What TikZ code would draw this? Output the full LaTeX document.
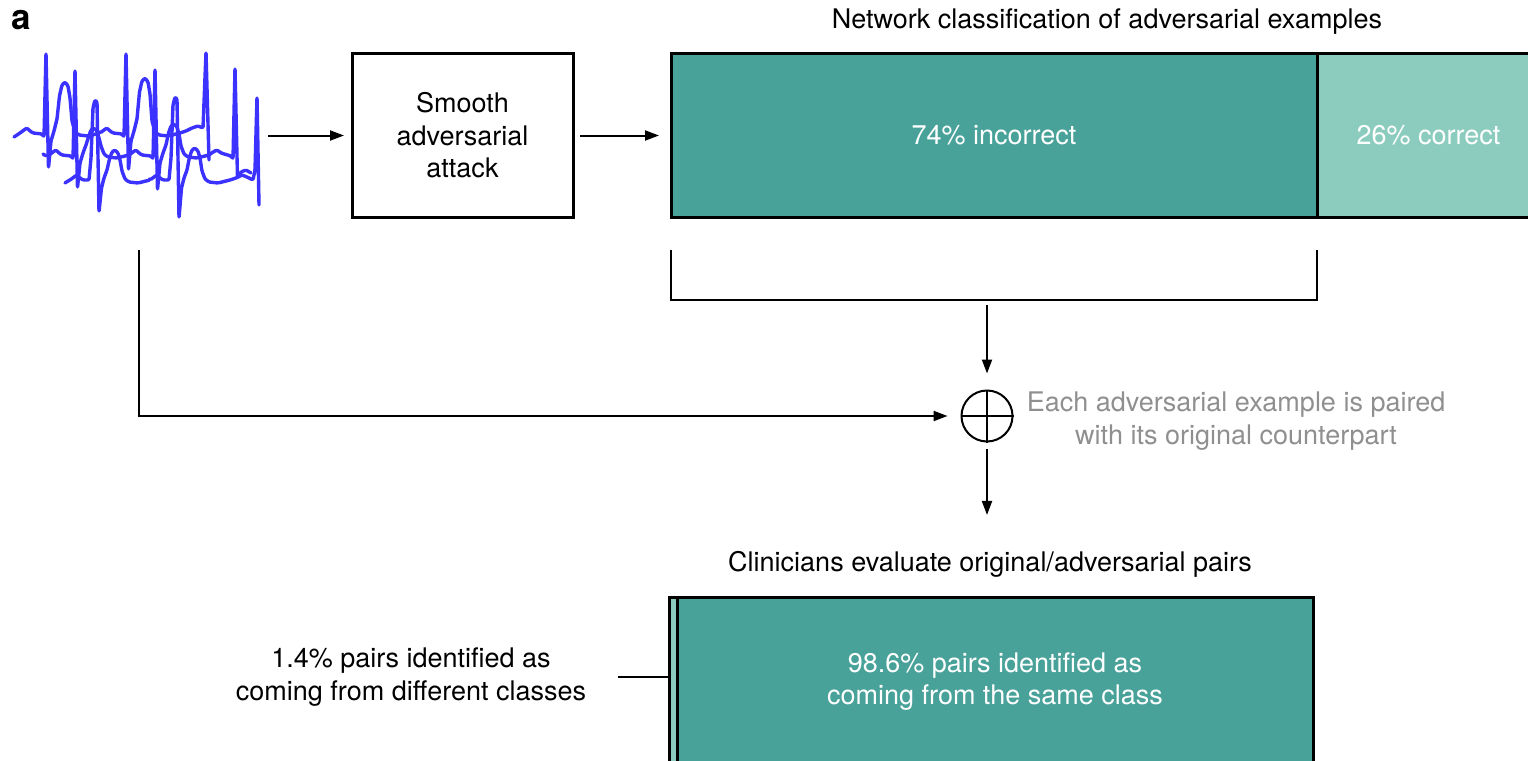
\documentclass[tikz,border=0pt]{standalone}
\usepackage{fontspec}
\setmainfont{TeX Gyre Heros}
\usetikzlibrary{arrows.meta,calc}
\definecolor{tealdark}{HTML}{48A299}
\definecolor{teallight}{HTML}{8BCCBE}
\definecolor{ecgblue}{HTML}{3B32FF}
\definecolor{notegray}{HTML}{8F8F8F}

\begin{document}
\begin{tikzpicture}[x=1pt,y=-1pt,
  txt/.style={font=\fontsize{27}{32.5}\selectfont, inner sep=0pt, outer sep=0pt, align=center},
  box/.style={txt, draw, line width=3pt},
  conn/.style={line width=2pt},
  arrowconn/.style={conn, -{Stealth[length=14pt,width=10pt,inset=0pt]}},
  ecg/.style={draw=ecgblue, line width=3.4pt, line join=round, line cap=round, rounded corners=1.2pt}
]
\clip (0,0) rectangle (1528,760);

% panel letter
\node[txt, font=\bfseries\fontsize{35}{40}\selectfont] (panel) at (21,20) {a};

% three overlaid ECG traces
\draw[ecg] (14,137) -- (17,135)
  foreach \x/\b/\r/\s/\t in {46/133/53/168/82, 126/133/53/170/78} {
    -- (\x-26,\b) -- (\x-22,\b-3) -- (\x-19,\b-5) -- (\x-16,\b-2) -- (\x-13,\b)
    -- (\x-4,\b+1) -- (\x-2,\b+4) -- (\x,\r) -- (\x+2.5,\s) -- (\x+5,\b+8)
    -- (\x+8,\b-2) -- (\x+11,\b-14) -- (\x+13.5,\t+14) -- (\x+16,\t+3) -- (\x+19,\t) -- (\x+22,\t+4)
    -- (\x+24,\t+16) -- (\x+26,\b-12) -- (\x+29,\b-1) -- (\x+33,\b+2) -- (\x+42,\b+3) -- (\x+54,\b)}
  -- (186,131) -- (192,128) -- (198,126) -- (203,128) -- (206,52) -- (209,160);
\draw[ecg] (43,154) -- (46,156)
  foreach \x/\b/\r/\s/\t in {75/155/70/188/128, 155/155/69/190/124} {
    -- (\x-26,\b) -- (\x-22,\b-3) -- (\x-19,\b-5) -- (\x-16,\b-2) -- (\x-13,\b)
    -- (\x-4,\b+1) -- (\x-2,\b+4) -- (\x,\r) -- (\x+2.5,\s) -- (\x+5,\b+8)
    -- (\x+8,\b-2) -- (\x+11,\b-10) -- (\x+13.5,\t+9) -- (\x+16,\t+2) -- (\x+19,\t) -- (\x+22,\t+3)
    -- (\x+24,\t+10) -- (\x+26,\b-9) -- (\x+29,\b-1) -- (\x+33,\b+2) -- (\x+42,\b+3) -- (\x+54,\b)}
  -- (213,152) -- (217,150) -- (221,153) -- (231,156) -- (233,159) -- (235,68)
  -- (237.5,178) -- (241,172) -- (246,170) -- (251,173);
\draw[ecg] (65,183) -- (68,181)
  foreach \x/\b/\r/\s/\t in {96/180/100/212/150, 176/180/97/218/148} {
    -- (\x-26,\b) -- (\x-22,\b-3) -- (\x-19,\b-5) -- (\x-16,\b-2) -- (\x-13,\b)
    -- (\x-7,\b) -- (\x-5,\b-22) -- (\x-3,\r+8) -- (\x-1,\r) -- (\x+1,\r+2) -- (\x+3,\s) -- (\x+5.5,\b+8)
    -- (\x+8,\b-2) -- (\x+11,\b-10) -- (\x+13.5,\t+9) -- (\x+16,\t+2) -- (\x+19,\t) -- (\x+22,\t+3)
    -- (\x+24,\t+10) -- (\x+26,\b-9) -- (\x+29,\b-1) -- (\x+33,\b+2) -- (\x+42,\b+3) -- (\x+54,\b)}
  -- (236,178) -- (242,175) -- (247,177) -- (253,180) -- (255,170) -- (257,97) -- (259,205);

% pipeline boxes
\node[box, minimum width=221pt, minimum height=164pt] (attack) at (462.5,135.5)
  {Smooth\\adversarial\\attack};
\node[txt] (nettitle) at (1107,22) {Network classification of adversarial examples};
\node[box, fill=tealdark, text=white, minimum width=646pt, minimum height=164pt]
  (wrong) at (994,135.5) {74\% incorrect};
\node[box, fill=teallight, text=white, minimum width=223pt, minimum height=164pt,
  anchor=west] (right) at (wrong.east) {26\% correct};

% connectors of the first row
\coordinate (ecgout) at (268,135.5);
\draw[arrowconn, shorten >=8pt] (ecgout) -- (attack.west);
\draw[arrowconn, shorten <=7pt, shorten >=12pt] (attack.east) -- (wrong.west);

% bracket under the incorrect part
\coordinate (brl) at ($(wrong.south west)+(0,32)$);
\coordinate (brr) at ($(wrong.south east)+(0,32)$);
\draw[conn] (brl) -- ++(0,50) -| (brr);
\coordinate (brbot) at ($(brl)+(0,55)$);

% pairing junction
\node[circle, draw, line width=2pt, minimum size=51pt, inner sep=0pt] (join) at (987,416) {};
\draw[conn] (join.north) -- (join.south) (join.west) -- (join.east);
\draw[arrowconn, shorten >=16pt] (join |- brbot) -- (join.north);
\coordinate (ecgtap) at (139,250);
\draw[arrowconn, shorten >=13pt] (ecgtap) |- (join.west);
\node[txt, text=notegray] (note) at (1236,421)
  {Each adversarial example is paired\\with its original counterpart};

% clinician evaluation
\node[txt] (clintitle) at (990,564) {Clinicians evaluate original/adversarial pairs};
\draw[arrowconn, shorten <=6pt, shorten >=36pt] (join.south) -- (join.south |- clintitle.north);

\node[draw, line width=3pt, fill=teallight, minimum width=8pt, minimum height=168pt,
  inner sep=0pt, outer sep=0pt, anchor=north west] (strip) at (669,597.5) {};
\node[box, fill=tealdark, text=white, minimum width=636pt, minimum height=168pt,
  anchor=north west] (same) at (strip.north east)
  {98.6\% pairs identified as\\coming from the same class};
\node[txt] (difftext) at (411,677)
  {1.4\% pairs identified as\\coming from different classes};
\draw[conn, line width=2.5pt, shorten <=32pt] (difftext.east) -- (difftext.east -| strip.west);
\end{tikzpicture}
\end{document}
